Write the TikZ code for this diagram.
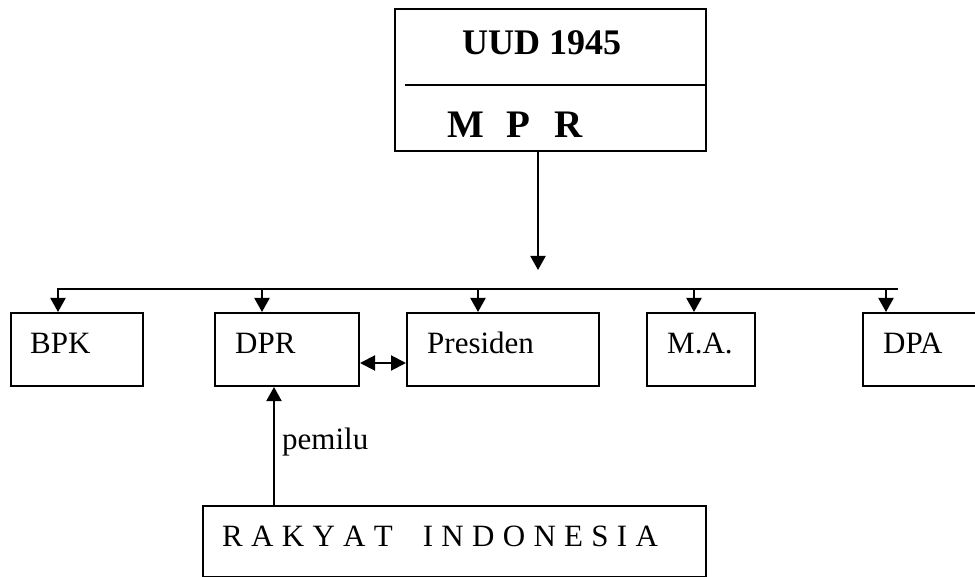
\documentclass[tikz,border=0pt]{standalone}
\usepackage{fontspec}
\setmainfont{Liberation Serif}
\usetikzlibrary{arrows.meta}
\begin{document}
\begin{tikzpicture}[x=1pt,y=-1pt,
  box/.style={draw,line width=2pt,rectangle,inner sep=0pt,anchor=north west},
  lbl/.style={inner sep=0pt,anchor=base west,font=\fontsize{31}{36}\selectfont},
  link/.style={line width=2pt},
  arr/.style={line width=2pt,-{Triangle[width=15pt,length=14pt]}},
  dbl/.style={line width=2pt,{Triangle[width=15pt,length=15pt]}-{Triangle[width=15pt,length=15pt]}}]
\clip (0,0) rectangle (975,577);

% constitution / assembly box
\node[box,minimum width=311pt,minimum height=142pt] (top) at (394,8) {};
\coordinate (div) at (405,85);
\draw[link] (div) -- (div -| top.east);
\node[lbl,font=\bfseries\fontsize{36}{42}\selectfont] (uud) at (462,55) {UUD 1945};
\node[lbl,font=\bfseries\fontsize{39}{46}\selectfont] (mpr) at (447,138) {M\hspace{23pt}P\hspace{24pt}R};

% state institutions
\node[box,minimum width=132pt,minimum height=73pt] (bpk) at (10,312) {};
\node[box,minimum width=144pt,minimum height=73pt] (dpr) at (214,312) {};
\node[box,minimum width=192pt,minimum height=73pt] (pres) at (406,312) {};
\node[box,minimum width=108pt,minimum height=73pt] (ma) at (646,312) {};
\node[box,minimum width=140pt,minimum height=73pt] (dpa) at (862,312) {};

\node[lbl] (tbpk) at (30,354) {BPK};
\node[lbl] (tdpr) at (235,354) {DPR};
\node[lbl] (tpres) at (427,354) {Presiden};
\node[lbl] (tma) at (667,354) {M.A.};
\node[lbl] (tdpa) at (883,354) {DPA};

% people
\node[box,minimum width=503pt,minimum height=71pt] (rakyat) at (202,505) {};
\node[lbl] (trakyat) at (222,546) {R\hspace{8.3pt}A\hspace{8.3pt}K\hspace{8.3pt}Y\hspace{8.3pt}A\hspace{8.3pt}T\hspace{30pt}I\hspace{8.3pt}N\hspace{8.3pt}D\hspace{8.3pt}O\hspace{8.3pt}N\hspace{8.3pt}E\hspace{8.3pt}S\hspace{8.3pt}I\hspace{8.3pt}A};

% distribution bus
\coordinate (mprend) at (538,270);
\draw[arr] (mprend |- top.south) -- (mprend);
\coordinate (busL) at (57,289);
\coordinate (busR) at (898,289);
\draw[link] (busL) -- (busR);
\coordinate (d1) at (58,289);
\coordinate (d2) at (262,289);
\coordinate (d3) at (478,289);
\coordinate (d4) at (694,289);
\coordinate (d5) at (886,289);
\draw[arr] (d1) -- (d1 |- bpk.north);
\draw[arr] (d2) -- (d2 |- dpr.north);
\draw[arr] (d3) -- (d3 |- pres.north);
\draw[arr] (d4) -- (d4 |- ma.north);
\draw[arr] (d5) -- (d5 |- dpa.north);

% DPR <-> Presiden
\draw[dbl] ([yshift=-13.5pt]dpr.east) -- ([yshift=-13.5pt]pres.west);

% election
\coordinate (vote) at (274,505);
\draw[arr] (vote) -- (vote |- dpr.south);
\node[lbl] (pemilu) at (282,449) {pemilu};
\end{tikzpicture}
\end{document}
